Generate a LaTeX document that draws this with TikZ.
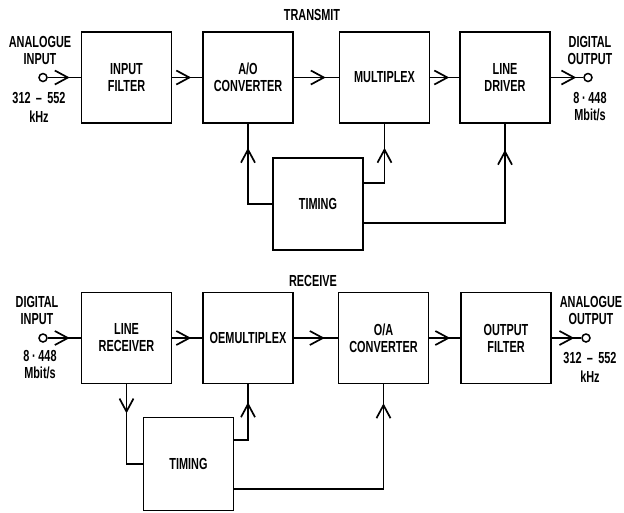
\documentclass[tikz,border=0pt]{standalone}
\usepackage{fontspec}
\setmainfont[FakeStretch=0.68]{Liberation Sans}
\usetikzlibrary{arrows.meta,decorations.markings}

\begin{document}
\begin{tikzpicture}[x=1pt,y=-1pt,
  font=\fontsize{16}{17}\selectfont\bfseries,
  blk/.style={draw,line width=1.7pt,minimum width=90pt,
    minimum height=91pt,align=center,inner sep=2pt},
  lbl/.style={align=center,inner sep=0pt},
  port/.style={circle,draw,line width=1.5pt,inner sep=0pt,minimum size=8pt},
  sig/.style={line width=1.7pt},
  chev/.style={postaction={decorate},decoration={markings,
    mark=at position #1 with {\arrow{Straight Barb[length=13pt,width=14pt]}}}}]
  \useasboundingbox (0,0) rectangle (624,512);

  % transmit chain
  \node (ttx) at (312,15) {TRANSMIT};
  \node[blk] (ifl) at (126.5,77.5) {INPUT\\FILTER};
  \node[blk] (ado) at (248,77.5) {A/O\\CONVERTER};
  \node[blk] (mux) at (384.5,77.5) {MULTIPLEX};
  \node[blk] (drv) at (505,77.5) {LINE\\DRIVER};
  \node[blk,minimum height=92pt] (tmt) at (318,204) {TIMING};

  \node[port] (ain) at (43,77.5) {};
  \node[port] (dout) at (588,77.5) {};
  \node[lbl] (ainl) at (40,50.5) {ANALOGUE\\INPUT};
  \node[lbl] (ainf) at (39,107.5) {312\,\,--\,\,552\\[2pt]kHz};
  \node[lbl] (doutl) at (590,50.5) {DIGITAL\\OUTPUT};
  \node[lbl] (doutr) at (590,106.5) {8\,·\,448\\Mbit/s};

  \draw[sig,chev=-11pt] (ain) -- (ifl);
  \draw[sig,chev=-11pt] (ifl) -- (ado);
  \draw[sig,chev=-13pt] (ado) -- (mux);
  \draw[sig,chev=-10pt] (mux) -- (drv);
  \draw[sig,chev=-7pt] (drv) -- (dout);

  \draw[sig,chev=-24pt] (tmt.west) -| (ado.south);
  \draw[sig,chev=-24pt] ([yshift=21pt]tmt.east) -| (mux.south);
  \draw[sig,chev=-26pt] ([yshift=-19pt]tmt.east) -| (drv.south);

  % receive chain
  \node (trx) at (313,281) {RECEIVE};
  \node[blk] (lrx) at (126.5,338) {LINE\\RECEIVER};
  \node[blk] (dmx) at (248,338) {OEMULTIPLEX};
  \node[blk] (dac) at (383.5,338) {O/A\\CONVERTER};
  \node[blk] (ofl) at (506,338) {OUTPUT\\FILTER};
  \node[blk,minimum height=93pt] (tmr) at (188.5,464) {TIMING};

  \node[port] (din) at (43,338) {};
  \node[port] (aout) at (586,338) {};
  \node[lbl] (dinl) at (37,310.5) {DIGITAL\\INPUT};
  \node[lbl] (dinr) at (40,365) {8\,·\,448\\Mbit/s};
  \node[lbl] (aoutl) at (591,310.5) {ANALOGUE\\OUTPUT};
  \node[lbl] (aoutf) at (590,367) {312\,\,--\,\,552\\[2pt]kHz};

  \draw[sig,chev=-11pt] (din) -- (lrx);
  \draw[sig,chev=-11pt] (lrx) -- (dmx);
  \draw[sig,chev=-13pt] (dmx) -- (dac);
  \draw[sig,chev=-10pt] (dac) -- (ofl);
  \draw[sig,chev=-7pt] (ofl) -- (aout);

  \draw[sig,chev=29pt] (lrx.south) |- (tmr.west);
  \draw[sig,chev=-18pt] ([yshift=24pt]tmr.east) -| (dmx.south);
  \draw[sig,chev=-19pt] ([yshift=-25pt]tmr.east) -| (dac.south);
\end{tikzpicture}
\end{document}
